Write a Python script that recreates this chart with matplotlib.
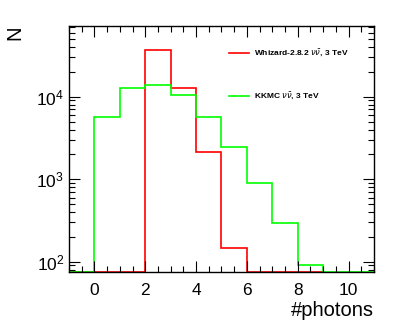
import numpy as np
import matplotlib.pyplot as plt
from matplotlib.ticker import MultipleLocator, LogLocator, NullFormatter

plt.rcParams['font.family'] = ['Liberation Sans', 'DejaVu Sans']
plt.rcParams['mathtext.fontset'] = 'dejavusans'

# photon multiplicity histograms (bin edges and counts)
whizard_edges = np.arange(-1, 10)
whizard_counts = [0, 0, 0, 37000, 12600, 2160, 148, 0, 0, 0]
kkmc_edges = np.arange(-1, 12)
kkmc_counts = [0, 5730, 12600, 14000, 10400, 5660, 2460, 888, 291, 92, 0, 0]

ymin, ymax = 75, 72000

fig = plt.figure(figsize=(4.07, 3.32), dpi=100)
ax = fig.add_axes([69/407, 1 - 272/332, (374-69)/407, (272-26)/332])

# empty bins sit on the bottom edge like in ROOT
w = np.clip(whizard_counts, ymin, None)
k = np.clip(kkmc_counts, ymin, None)
ax.stairs(w, whizard_edges, baseline=ymin, color='#ff0000', lw=1.2, clip_on=False)
ax.stairs(k, kkmc_edges, baseline=ymin, color='#00ff00', lw=1.2, clip_on=False)

ax.set_yscale('log')
ax.set_xlim(-1, 11)
ax.set_ylim(ymin, ymax)

ax.xaxis.set_major_locator(MultipleLocator(2))
ax.xaxis.set_minor_locator(MultipleLocator(0.5))
ax.yaxis.set_major_locator(LogLocator(base=10, numticks=10))
ax.yaxis.set_minor_locator(LogLocator(base=10, subs=np.arange(2, 10), numticks=10))
ax.yaxis.set_minor_formatter(NullFormatter())
ax.tick_params(which='both', direction='in', top=True, right=True, labelsize=12.5)
ax.tick_params(which='major', length=8, width=0.8)
ax.tick_params(which='minor', length=4, width=0.8)
ax.tick_params(axis='x', pad=8)
for s in ax.spines.values():
    s.set_linewidth(1.0)

ax.set_xlabel('#photons', fontsize=14.5, loc='right', labelpad=2)
fig.text(15/407, 1 - 33/332, 'N', rotation=90, fontsize=14.5, ha='center', va='center')

# legend drawn manually to mimic ROOT TLegend without border
lx0, lx1, tx = 229/407, 249/407, 254/407
for yy, col, lab in [(53, '#ff0000', r'Whizard-2.8.2 $\nu\bar{\nu}$, 3 TeV'),
                     (96, '#00ff00', r'KKMC $\nu\bar{\nu}$, 3 TeV')]:
    fig.add_artist(plt.Line2D([lx0, lx1], [1 - yy/332, 1 - yy/332], color=col, lw=1.2))
    fig.text(tx, 1 - yy/332, lab, fontsize=6, fontweight='bold', va='center')

fig.savefig('out.png', dpi=100)
